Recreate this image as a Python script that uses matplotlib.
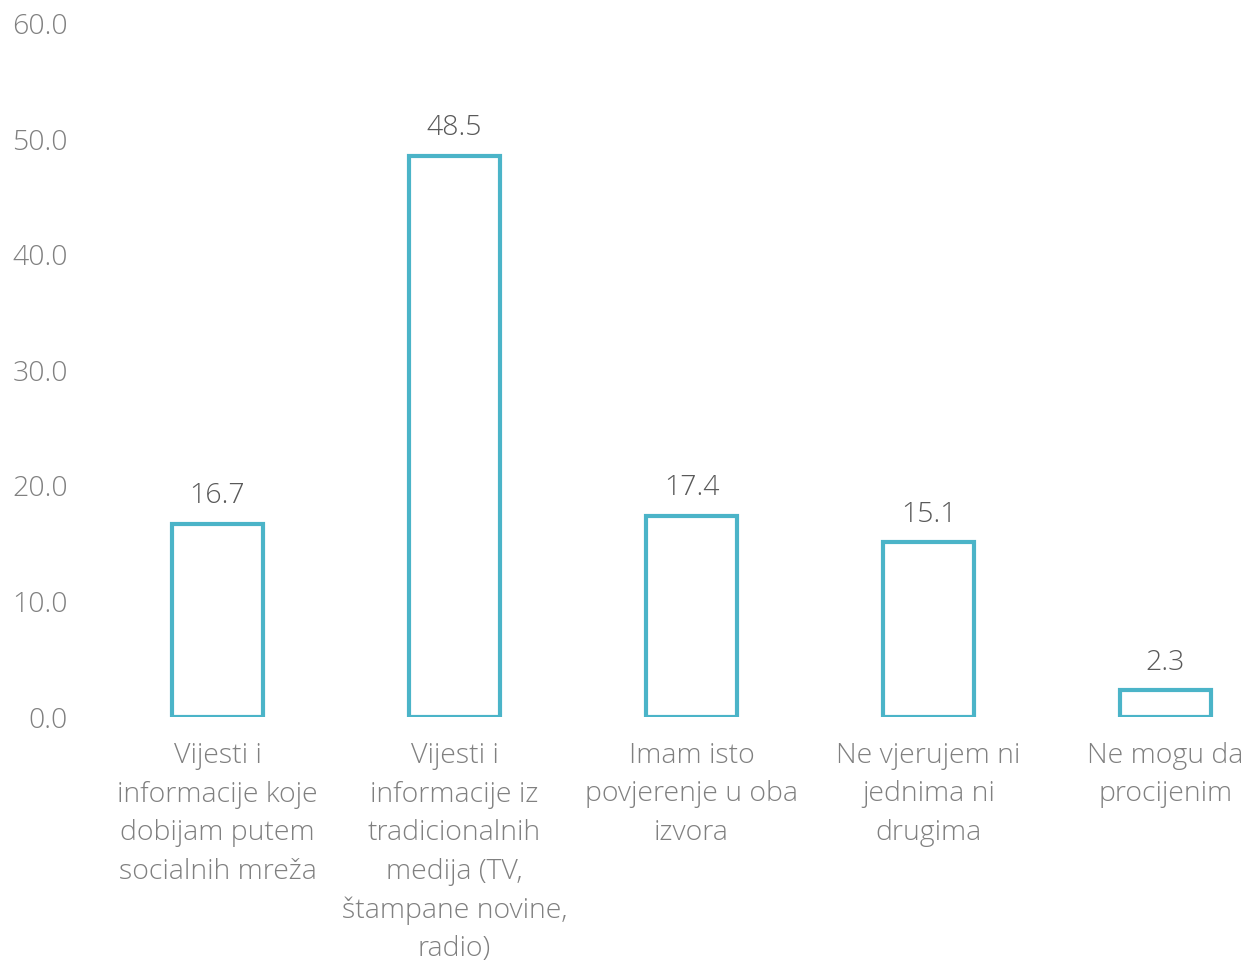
import matplotlib.pyplot as plt

categories = [
    "Vijesti i\ninformacije koje\ndobijam putem\nsocialnih mreža",
    "Vijesti i\ninformacije iz\ntradicionalnih\nmedija (TV,\nštampane novine,\nradio)",
    "Imam isto\npovjerenje u oba\nizvora",
    "Ne vjerujem ni\njednima ni\ndrugima",
    "Ne mogu da\nprocijenim",
]
values = [16.7, 48.5, 17.4, 15.1, 2.3]
yticks = [0, 10, 20, 30, 40, 50, 60]

plt.rcParams['font.family'] = ['Open Sans', 'DejaVu Sans']

W, H = 1248, 967
fig = plt.figure(figsize=(W / 100, H / 100), dpi=100)
left_px, right_px = 90, 1248
top_px, bot_px = 23.4, 717
ax = fig.add_axes([left_px / W, 1 - bot_px / H, (right_px - left_px) / W, (bot_px - top_px) / H])

x = list(range(len(values)))
ax.bar(x, values, width=0.384, facecolor='white', edgecolor='#4BB4C8', linewidth=3)

for xi, v in zip(x, values):
    ax.annotate(f"{v:.1f}", (xi, v), xytext=(0, 10), textcoords='offset points',
                ha='center', va='bottom', fontsize=20.5, color='#595959', fontweight='light')

c0, step = 217.5, 237
ax.set_xlim((left_px - c0) / step, (right_px - c0) / step)
ax.set_ylim(0, 60)
ax.set_yticks(yticks)
ax.set_yticklabels([f"{t:.1f}" for t in yticks], fontsize=20.5, color='#808080', fontweight='light')
ax.set_xticks(x)
ax.set_xticklabels(categories, fontsize=20.5, color='#808080', fontweight='light', linespacing=1.5)
ax.tick_params(axis='both', length=0)
ax.tick_params(axis='x', pad=18)
ax.tick_params(axis='y', pad=16)
for s in ax.spines.values():
    s.set_visible(False)

fig.savefig('out.png', dpi=100)
